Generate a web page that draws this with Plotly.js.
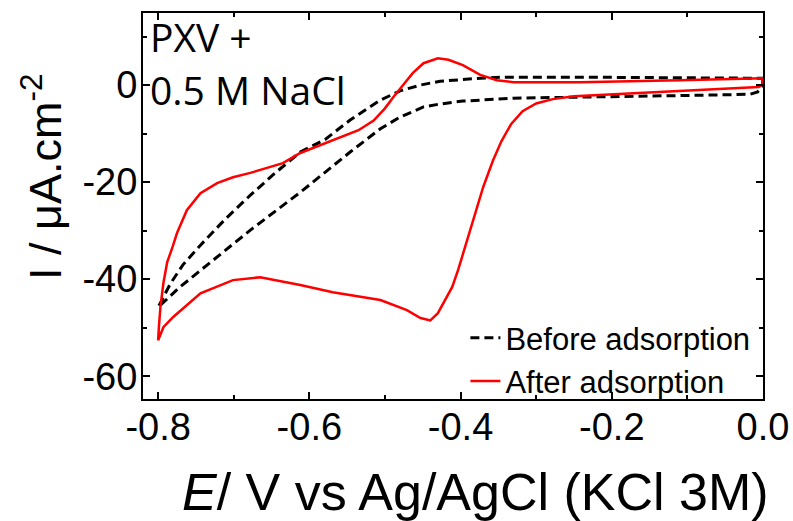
<!DOCTYPE html>
<html>
<head>
<meta charset="utf-8">
<script src="https://cdn.plot.ly/plotly-3.0.1.min.js"></script>
<style>html,body{margin:0;padding:0;background:#fff;}#chart{width:793px;height:521px;}</style>
</head>
<body>
<div id="chart"></div>
<script>
// Before adsorption (black dashed): cathodic sweep 0 -> -0.8 V, then anodic back to 0 V
const beforeE = [0.000, -0.001, -0.007, -0.017, -0.083, -0.149, -0.215, -0.268, -0.330, -0.374, -0.397, -0.427, -0.449, -0.480, -0.506, -0.546, -0.612, -0.678, -0.722, -0.771, -0.800,
                 -0.784, -0.767, -0.744, -0.711, -0.678, -0.645, -0.612, -0.579, -0.546, -0.506, -0.480, -0.453, -0.427, -0.374, -0.348, -0.215, -0.083, 0.000];
const beforeI = [1.4, -0.4, -1.4, -1.9, -2.1, -2.3, -2.5, -2.6, -2.7, -3.1, -3.3, -3.9, -4.5, -6.6, -9.0, -13.8, -22.1, -29.9, -35.5, -41.6, -45.8,
                 -41.0, -37.0, -33.0, -27.6, -22.7, -18.1, -13.8, -11.2, -7.2, -3.1, -1.2, 0.0, 0.8, 1.4, 1.6, 1.6, 1.5, 1.4];

// After adsorption (red solid)
const afterE = [0.000, -0.001, -0.006, -0.083, -0.149, -0.215, -0.250, -0.278, -0.300, -0.318, -0.333, -0.346, -0.357, -0.370, -0.383, -0.397, -0.403, -0.411, -0.420, -0.430, -0.440, -0.453, -0.471, -0.489, -0.506, -0.569, -0.612, -0.665, -0.701, -0.744, -0.780, -0.793, -0.800,
                -0.799, -0.797, -0.793, -0.788, -0.781, -0.775, -0.762, -0.744, -0.722, -0.701, -0.678, -0.635, -0.612, -0.569, -0.535, -0.515, -0.500, -0.488, -0.475, -0.463, -0.449, -0.430, -0.416, -0.397, -0.374, -0.352, -0.330, -0.242, -0.110, 0.000];
const afterI = [1.2, 0.0, -0.4, -1.0, -1.4, -1.9, -2.3, -2.9, -3.8, -5.4, -8.0, -11.6, -15.5, -21.0, -27.8, -35.0, -38.0, -41.6, -44.3, -47.0, -48.5, -48.0, -46.4, -45.4, -44.3, -42.7, -41.2, -39.6, -40.2, -42.9, -47.8, -49.9, -52.6,
                -49.9, -45.8, -40.8, -36.5, -33.4, -30.5, -25.8, -22.3, -20.2, -19.0, -18.1, -16.1, -14.0, -11.3, -9.3, -7.3, -4.8, -2.3, 0.2, 2.5, 4.5, 5.5, 5.2, 4.1, 2.1, 1.0, 0.6, 0.6, 1.0, 1.4];

const seriesNames = ["Before adsorption", "After adsorption"];

const xTickVals = [-0.8, -0.6, -0.4, -0.2, 0.0];
const xTickText = ["-0.8", "-0.6", "-0.4", "-0.2", "0.0"];
const xMinorVals = [-0.7, -0.5, -0.3, -0.1];
const yTickVals = [-60, -40, -20, 0];
const yTickText = ["-60", "-40", "-20", "0"];
const yMinorVals = [-50, -30, -10, 10];

const xTitle = "<i>E</i>/ V vs Ag/AgCl (KCl 3M)";
const yTitle = "I / \u03bcA.cm<sup>-2</sup>";
const noteLines = ["PXV +", "0.5 M NaCl"];

const arial = "Liberation Sans, Arial, sans-serif";
const tickFont = {family: arial, size: 38, color: "#000"};

const traces = [
  {x: beforeE, y: beforeI, name: seriesNames[0], mode: "lines",
   line: {color: "#000", width: 3, dash: "9px,5px"}},
  {x: afterE, y: afterI, name: seriesNames[1], mode: "lines",
   line: {color: "#ff0000", width: 2.5}}
];

const axisCommon = {
  showline: true, linecolor: "#000", linewidth: 2, mirror: "ticks",
  ticks: "inside", ticklen: 7, tickwidth: 2, tickcolor: "#000",
  showgrid: false, zeroline: false, tickfont: tickFont,
  tickmode: "array"
};

const layout = {
  width: 793, height: 521,
  margin: {l: 143, r: 30, t: 13, b: 122, pad: 0},
  paper_bgcolor: "#fff", plot_bgcolor: "#fff",
  showlegend: true,
  xaxis: Object.assign({}, axisCommon, {
    range: [-0.82, 0.0], tickvals: xTickVals, ticktext: xTickText,
    minor: {tickmode: "array", tickvals: xMinorVals, ticks: "inside", ticklen: 4, tickwidth: 2, tickcolor: "#000"},
    ticklabelstandoff: -7
  }),
  yaxis: Object.assign({}, axisCommon, {
    range: [-64.7, 14.85], tickvals: yTickVals, ticktext: yTickText,
    minor: {tickmode: "array", tickvals: yMinorVals, ticks: "inside", ticklen: 4, tickwidth: 2, tickcolor: "#000"},
    ticklabelstandoff: -4
  }),
  legend: {
    x: 0.52, y: 0.228, xanchor: "left", yanchor: "top",
    bgcolor: "rgba(0,0,0,0)", borderwidth: 0,
    font: {family: arial, size: 31, color: "#000"},
    tracegroupgap: 0, itemwidth: 30
  },
  annotations: [
    {text: noteLines[0], xref: "paper", yref: "paper", x: 0.008, y: 0.94, xanchor: "left", yanchor: "middle",
     showarrow: false, font: {family: "Open Sans, sans-serif", size: 39, color: "#000"}},
    {text: noteLines[1], xref: "paper", yref: "paper", x: 0.008, y: 0.803, xanchor: "left", yanchor: "middle",
     showarrow: false, font: {family: "Open Sans, sans-serif", size: 39, color: "#000"}},
    {text: xTitle, xref: "paper", yref: "paper", x: 0.537, y: -0.24, xanchor: "center", yanchor: "middle",
     showarrow: false, font: {family: arial, size: 52, color: "#000"}},
    {text: yTitle, xref: "paper", yref: "paper", x: -0.163, y: 0.575, xanchor: "center", yanchor: "middle",
     textangle: -90, showarrow: false, font: {family: arial, size: 45, color: "#000"}}
  ]
};

Plotly.newPlot("chart", traces, layout, {displayModeBar: false, staticPlot: true});
</script>
</body>
</html>
